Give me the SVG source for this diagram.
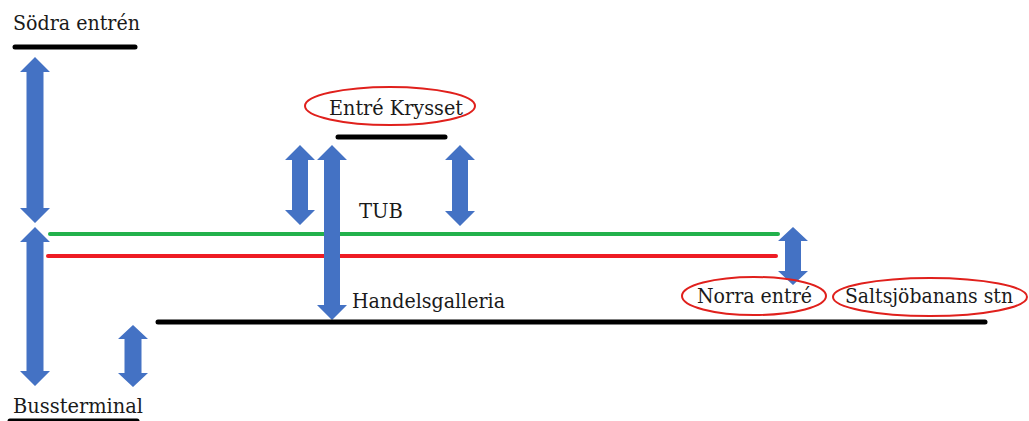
<svg xmlns="http://www.w3.org/2000/svg" width="1029" height="421" viewBox="0 0 1029 421">
<style>
text{font-family:'DejaVu Serif','Liberation Serif',serif;font-size:20px;fill:#1a1a1a}
.bl{stroke:#000;stroke-width:5;stroke-linecap:round;fill:none}
.ar{fill:#4472C4}
.ov{fill:none;stroke:#E0201C;stroke-width:2}
</style>
<rect width="1029" height="421" fill="#fff"/>
<g id="connectors">
<line x1="50" y1="234" x2="778" y2="234" stroke="#22B14C" stroke-width="4" stroke-linecap="round"/>
<line x1="48" y1="256" x2="776" y2="256" stroke="#EE1C24" stroke-width="4" stroke-linecap="round"/>
<path class="ar" d="M35,57 L50,72 L43.5,72 L43.5,208 L50,208 L35,223 L20,208 L26.5,208 L26.5,72 L20,72 Z"/>
<path class="ar" d="M35,227 L50,242 L43.5,242 L43.5,371 L50,371 L35,386 L20,371 L26.5,371 L26.5,242 L20,242 Z"/>
<path class="ar" d="M133,325 L148,339 L141.5,339 L141.5,373 L148,373 L133,387 L118,373 L124.5,373 L124.5,339 L118,339 Z"/>
<path class="ar" d="M300,145 L315,160 L308,160 L308,210 L315,210 L300,225 L285,210 L292,210 L292,160 L285,160 Z"/>
<path class="ar" d="M332,145 L347,160 L340,160 L340,305 L347,305 L332,320 L317,305 L324,305 L324,160 L317,160 Z"/>
<path class="ar" d="M460,145 L475,160 L468,160 L468,211 L475,211 L460,226 L445,211 L452,211 L452,160 L445,160 Z"/>
<path class="ar" d="M793,227 L808,241 L801,241 L801,271 L808,271 L793,285 L778,271 L785,271 L785,241 L778,241 Z"/>
</g>
<g id="sodra">
<text x="13" y="30" textLength="127" lengthAdjust="spacingAndGlyphs">Södra entrén</text>
<line class="bl" x1="15" y1="47" x2="135" y2="47"/>
</g>
<g id="bussterminal">
<text x="13" y="413" textLength="130" lengthAdjust="spacingAndGlyphs">Bussterminal</text>
<line class="bl" x1="10" y1="421" x2="137" y2="421"/>
</g>
<g id="krysset">
<ellipse class="ov" cx="390" cy="106" rx="85" ry="19"/>
<text x="329" y="115" textLength="134" lengthAdjust="spacingAndGlyphs">Entré Krysset</text>
<line class="bl" x1="338" y1="137" x2="445" y2="137"/>
</g>
<g id="tub">
<text x="359" y="218" textLength="44" lengthAdjust="spacingAndGlyphs">TUB</text>
</g>
<g id="handelsgalleria">
<text x="352" y="308" textLength="153" lengthAdjust="spacingAndGlyphs">Handelsgalleria</text>
<line class="bl" x1="158" y1="322" x2="985" y2="322"/>
</g>
<g id="norra">
<ellipse class="ov" cx="754" cy="296" rx="72" ry="19"/>
<text x="697" y="303" textLength="115" lengthAdjust="spacingAndGlyphs">Norra entré</text>
</g>
<g id="saltsjobanan">
<ellipse class="ov" cx="930" cy="297" rx="97" ry="19"/>
<text x="845" y="303" textLength="168" lengthAdjust="spacingAndGlyphs">Saltsjöbanans stn</text>
</g>
</svg>
